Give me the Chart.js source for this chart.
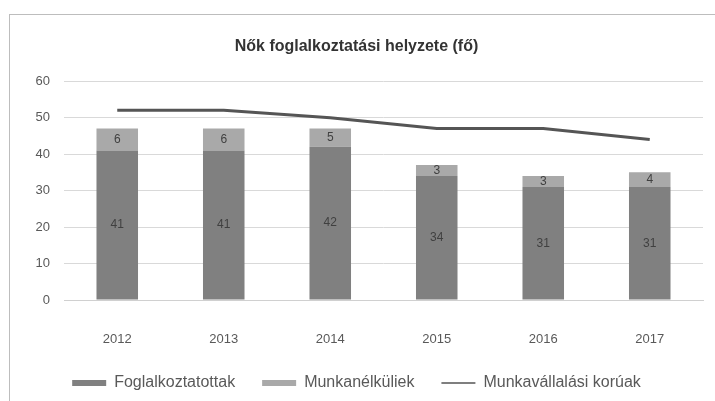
<!DOCTYPE html>
<html>
<head>
<meta charset="utf-8">
<script src="https://cdn.jsdelivr.net/npm/chart.js@4"></script>
<style>
  html, body { margin: 0; padding: 0; background: #fff; }
  #wrap { position: relative; width: 715px; height: 401px; overflow: hidden; }
  #frame { position: absolute; left: 9px; top: 14px; width: 720px; height: 400px;
           border-left: 1px solid #bdbdbd; border-top: 1px solid #bdbdbd; }
</style>
</head>
<body>
<div id="wrap">
  <div id="frame"></div>
  <canvas id="chartCanvas" width="715" height="401"></canvas>
</div>
<script>
// Adatok (értékek)
var years = ['2012', '2013', '2014', '2015', '2016', '2017']
var employed = [41, 41, 42, 34, 31, 31]     // Foglalkoztatottak
var unemployed = [6, 6, 5, 3, 3, 4]         // Munkanélküliek
var workingAge = [52, 52, 50, 47, 47, 44]   // Munkavállalási korúak
var yTicks = [0, 10, 20, 30, 40, 50, 60]

var chartTitle = 'Nők foglalkoztatási helyzete (fő)'
var font = 'Liberation Sans, Arial, sans-serif'

// saját kis plugin: értékcímkék a sávok közepére
var barLabels = {
    id: 'barLabels',
    afterDatasetsDraw: function (chart) {
        var ctx = chart.ctx
        ctx.save()
        ctx.font = '12px ' + font
        ctx.fillStyle = '#404040'
        ctx.textAlign = 'center'
        ctx.textBaseline = 'middle'
        chart.data.datasets.forEach(function (ds, i) {
            if (ds.type === 'line') return
            var meta = chart.getDatasetMeta(i)
            meta.data.forEach(function (bar, j) {
                var mid = (bar.y + bar.base) / 2
                ctx.fillText(String(ds.data[j]), bar.x, mid)
            })
        })
        ctx.restore()
    }
}

var canvasChart = document.getElementById('chartCanvas')
var myChart = new Chart(canvasChart, {
    type: 'bar',
    data: {
        labels: years,
        datasets: [
            {
                label: 'Foglalkoztatottak',
                data: employed,
                backgroundColor: '#808080',
                stack: 'bars',
                barPercentage: 0.39,
                categoryPercentage: 1
            },
            {
                label: 'Munkanélküliek',
                data: unemployed,
                backgroundColor: '#a9a9a9',
                stack: 'bars',
                barPercentage: 0.39,
                categoryPercentage: 1
            },
            {
                type: 'line',
                label: 'Munkavállalási korúak',
                data: workingAge,
                borderColor: '#555555',
                backgroundColor: '#555555',
                borderWidth: 3,
                pointRadius: 0,
                tension: 0,
                stack: 'line'
            }
        ]
    },
    options: {
        responsive: false,
        animation: false,
        layout: { padding: { left: 10, right: 12, top: 37, bottom: 0 } },
        plugins: {
            title: {
                display: true,
                text: chartTitle,
                color: '#333333',
                font: { family: font, size: 16, weight: 'bold' },
                padding: { top: 0, bottom: 25 }
            },
            legend: {
                position: 'bottom',
                labels: {
                    color: '#595959',
                    font: { family: font, size: 16 },
                    usePointStyle: true,
                    pointStyleWidth: 34,
                    boxHeight: 6,
                    padding: 27,
                    generateLabels: function (chart) {
                        var items = Chart.defaults.plugins.legend.labels.generateLabels(chart)
                        items.forEach(function (it, i) {
                            if (i === 2) { it.pointStyle = 'line'; it.lineWidth = 1.5 }
                            else { it.pointStyle = 'rect'; it.lineWidth = 0 }
                        })
                        return items
                    }
                }
            },
            tooltip: { enabled: false }
        },
        scales: {
            x: {
                stacked: true,
                grid: { display: false },
                border: { color: '#d0d0d0' },
                ticks: { color: '#595959', font: { family: font, size: 13 }, padding: 24 },
                afterFit: function (scale) { scale.height = 48 }
            },
            y: {
                stacked: true,
                min: 0,
                max: 60,
                afterBuildTicks: function (scale) {
                    scale.ticks = yTicks.map(function (v) { return { value: v } })
                },
                grid: { color: '#d9d9d9', drawTicks: false },
                border: { display: false },
                ticks: { color: '#595959', font: { family: font, size: 13 }, padding: 14 },
                afterFit: function (scale) { scale.width = 54 }
            }
        }
    },
    plugins: [barLabels]
})
</script>
</body>
</html>
